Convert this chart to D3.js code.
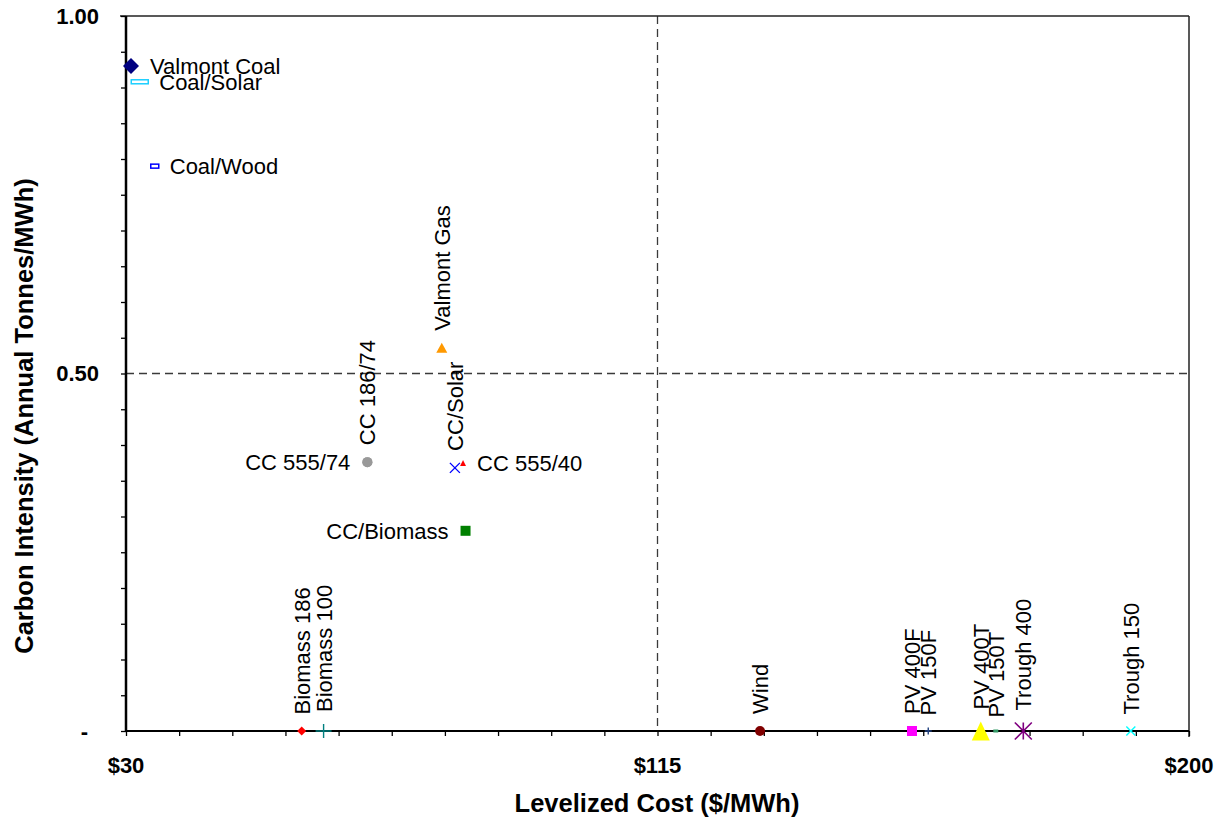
<!DOCTYPE html>
<html>
<head>
<meta charset="utf-8">
<script src="https://cdn.jsdelivr.net/npm/d3@7"></script>
<style>
  html, body { margin: 0; padding: 0; background: #fff; }
  svg { display: block; font-family: "Liberation Sans", Arial, sans-serif; }
</style>
</head>
<body>
<svg id="chart" width="1224" height="821"></svg>
<script>
// Generation options: levelized cost vs. carbon intensity
const names = [
  "Valmont Coal", "Coal/Solar", "Coal/Wood",
  "CC 186/74", "CC 555/74", "Valmont Gas", "CC/Solar", "CC 555/40", "CC/Biomass",
  "Biomass 186", "Biomass 100", "Wind",
  "PV 400F", "PV 150F", "PV 400T", "PV 150T", "Trough 400", "Trough 150"
];
const cost = [
  30.8, 32.2, 34.6,
  68.6, 68.6, 80.5, 82.6, 83.9, 84.3,
  58.1, 61.6, 131.4,
  155.7, 158.3, 166.7, 169.1, 173.5, 190.7
];
const intensity = [
  0.930, 0.908, 0.790,
  0.376, 0.376, 0.536, 0.368, 0.375, 0.280,
  0, 0, 0,
  0, 0, 0, 0, 0, 0
];

const xTickValues = [30, 115, 200];
const xTickLabels = ["$30", "$115", "$200"];
const yTickValues = [0, 0.5, 1];
const yTickLabels = ["-", "0.50", "1.00"];
const xMinorStep = 8.5;
const yMinorStep = 0.05;

// Marker look and label side for each series
const markerStyle = {
  "Valmont Coal": { shape: "diamond",  color: "#000080", w: 16, h: 16, label: "right" },
  "Coal/Solar":   { shape: "hollowRect", color: "#1ccfff", w: 17, h: 4, label: "right" },
  "Coal/Wood":    { shape: "hollowRect", color: "#0000ff", w: 8,  h: 4, label: "right" },
  "CC 186/74":    { shape: "circle",   color: "#999999", w: 10, h: 10, label: "above" },
  "CC 555/74":    { shape: "circle",   color: "#999999", w: 10, h: 10, label: "left" },
  "Valmont Gas":  { shape: "triangle", color: "#ff9900", w: 11, h: 10, label: "above" },
  "CC/Solar":     { shape: "x",        color: "#0000ff", w: 10, h: 10, label: "above" },
  "CC 555/40":    { shape: "triangle", color: "#ff0000", w: 6,  h: 6,  label: "right" },
  "CC/Biomass":   { shape: "square",   color: "#008000", w: 10, h: 10, label: "left" },
  "Biomass 186":  { shape: "diamond",  color: "#ff0000", w: 9,  h: 9,  label: "above" },
  "Biomass 100":  { shape: "plus",     color: "#008080", w: 16, h: 14, label: "above" },
  "Wind":         { shape: "circle",   color: "#800000", w: 10, h: 10, label: "above" },
  "PV 400F":      { shape: "square",   color: "#ff00ff", w: 10, h: 10, label: "above" },
  "PV 150F":      { shape: "plus",     color: "#1f3f7f", w: 7,  h: 7,  label: "above" },
  "PV 400T":      { shape: "triangle", color: "#ffff00", w: 18, h: 19, label: "above" },
  "PV 150T":      { shape: "dash",     color: "#339966", w: 5,  h: 3,  label: "above" },
  "Trough 400":   { shape: "star",     color: "#800080", w: 17, h: 17, label: "above" },
  "Trough 150":   { shape: "x",        color: "#00ffff", w: 9,  h: 9,  label: "above" }
};

const points = names.map((n, i) => ({ name: n, cost: cost[i], intensity: intensity[i] }));

const svg = d3.select("#chart");
const plot = { left: 126, right: 1189, top: 16, bottom: 731 };

const x = d3.scaleLinear().domain([30, 200]).range([plot.left, plot.right]);
const y = d3.scaleLinear().domain([0, 1]).range([plot.bottom, plot.top]);

// Dashed reference lines at the mid values
const grid = svg.append("g");
grid.append("line")
  .attr("x1", x(115)).attr("x2", x(115))
  .attr("y1", y(1)).attr("y2", y(0))
  .attr("stroke", "#3a3a3a").attr("stroke-width", 1.3)
  .attr("stroke-dasharray", "8,5");
grid.append("line")
  .attr("x1", x(30)).attr("x2", x(200))
  .attr("y1", y(0.5)).attr("y2", y(0.5))
  .attr("stroke", "#3a3a3a").attr("stroke-width", 1.3)
  .attr("stroke-dasharray", "8,5");

// Plot frame: top and right edges
svg.append("line")
  .attr("x1", x(30) - 6).attr("x2", x(200))
  .attr("y1", y(1)).attr("y2", y(1))
  .attr("stroke", "#222").attr("stroke-width", 1.5);
svg.append("line")
  .attr("x1", x(200)).attr("x2", x(200))
  .attr("y1", y(1)).attr("y2", y(0) + 6)
  .attr("stroke", "#222").attr("stroke-width", 1.5);

// X axis with minor ticks every 8.5
const xMinor = d3.range(30, 200 + 0.001, xMinorStep);
const xAxis = d3.axisBottom(x)
  .tickValues(xMinor)
  .tickSize(5)
  .tickFormat("");
const gx = svg.append("g")
  .attr("transform", `translate(0,${plot.bottom})`)
  .call(xAxis);
gx.select(".domain").attr("stroke", "#000").attr("stroke-width", 2.2)
  .attr("d", `M${plot.left},0H${plot.right}`);
gx.selectAll(".tick line").attr("stroke", "#000").attr("stroke-width", 1.3);

svg.append("g").selectAll("text")
  .data(xTickValues)
  .join("text")
  .attr("x", d => x(d))
  .attr("y", 773)
  .attr("text-anchor", "middle")
  .attr("font-size", 22)
  .attr("font-weight", "bold")
  .attr("fill", "#000")
  .text((d, i) => xTickLabels[i]);

// Y axis with minor ticks every 0.05
const yMinor = d3.range(0, 1 + 0.0001, yMinorStep);
const yAxis = d3.axisLeft(y)
  .tickValues(yMinor)
  .tickSize(5)
  .tickFormat("");
const gy = svg.append("g")
  .attr("transform", `translate(${plot.left},0)`)
  .call(yAxis);
gy.select(".domain").attr("stroke", "#000").attr("stroke-width", 2.5)
  .attr("d", `M0,${plot.top}V${plot.bottom}`);
gy.selectAll(".tick line").attr("stroke", "#000").attr("stroke-width", 1.3);

svg.append("g").selectAll("text")
  .data(yTickValues)
  .join("text")
  .attr("x", d => d === 0 ? 88 : 99)
  .attr("y", d => y(d))
  .attr("dy", "0.36em")
  .attr("text-anchor", "end")
  .attr("font-size", 22)
  .attr("font-weight", "bold")
  .attr("fill", "#000")
  .text((d, i) => yTickLabels[i]);

// Axis titles
svg.append("text")
  .attr("x", 657)
  .attr("y", 812)
  .attr("text-anchor", "middle")
  .attr("font-size", 25.5)
  .attr("font-weight", "bold")
  .text("Levelized Cost ($/MWh)");

svg.append("text")
  .attr("transform", "translate(33,416) rotate(-90)")
  .attr("text-anchor", "middle")
  .attr("font-size", 25.5)
  .attr("font-weight", "bold")
  .text("Carbon Intensity (Annual Tonnes/MWh)");

// Marker drawing
function drawMarker(g, s) {
  const w = s.w / 2, h = s.h / 2;
  switch (s.shape) {
    case "diamond":
      g.append("path").attr("d", `M0,${-h}L${w},0L0,${h}L${-w},0Z`).attr("fill", s.color);
      break;
    case "hollowRect":
      g.append("rect").attr("x", -w).attr("y", -h).attr("width", s.w).attr("height", s.h)
        .attr("fill", "#fff").attr("stroke", s.color).attr("stroke-width", 1.5);
      break;
    case "circle":
      g.append("circle").attr("r", w).attr("fill", s.color);
      break;
    case "square":
      g.append("rect").attr("x", -w).attr("y", -h).attr("width", s.w).attr("height", s.h)
        .attr("fill", s.color);
      break;
    case "triangle":
      g.append("path").attr("d", `M0,${-h}L${w},${h}L${-w},${h}Z`).attr("fill", s.color);
      break;
    case "x":
      g.append("path").attr("d", `M${-w},${-h}L${w},${h}M${-w},${h}L${w},${-h}`)
        .attr("stroke", s.color).attr("stroke-width", 1.4).attr("fill", "none");
      break;
    case "plus":
      g.append("path").attr("d", `M${-w},0L${w},0M0,${-h}L0,${h}`)
        .attr("stroke", s.color).attr("stroke-width", 1.4).attr("fill", "none");
      break;
    case "star":
      g.append("path").attr("d", `M${-w},${-h}L${w},${h}M${-w},${h}L${w},${-h}M0,${-h}L0,${h}`)
        .attr("stroke", s.color).attr("stroke-width", 1.6).attr("fill", "none");
      break;
    case "dash":
      g.append("rect").attr("x", -w).attr("y", -h).attr("width", s.w).attr("height", s.h)
        .attr("fill", s.color);
      break;
  }
}

const marks = svg.append("g");
points.forEach(p => {
  const s = markerStyle[p.name];
  const g = marks.append("g").attr("transform", `translate(${x(p.cost)},${y(p.intensity)})`);
  drawMarker(g, s);
});

// Point labels
const labels = svg.append("g")
  .attr("font-size", 22)
  .attr("fill", "#000");
points.forEach(p => {
  const s = markerStyle[p.name];
  const px = x(p.cost), py = y(p.intensity);
  if (s.label === "right") {
    labels.append("text")
      .attr("x", px + s.w / 2 + 11).attr("y", py).attr("dy", "0.36em")
      .attr("text-anchor", "start").text(p.name);
  } else if (s.label === "left") {
    labels.append("text")
      .attr("x", px - s.w / 2 - 12).attr("y", py).attr("dy", "0.36em")
      .attr("text-anchor", "end").text(p.name);
  } else {
    labels.append("text")
      .attr("transform", `translate(${px},${py - s.h / 2 - 12}) rotate(-90)`)
      .attr("dy", "0.36em")
      .attr("text-anchor", "start").text(p.name);
  }
});
</script>
</body>
</html>
